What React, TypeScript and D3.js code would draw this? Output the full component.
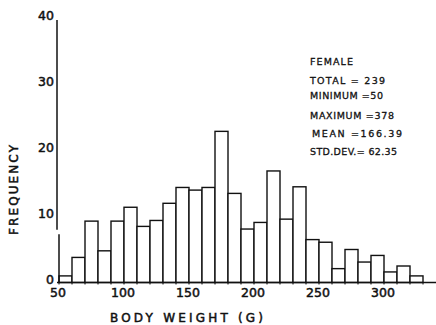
import { useEffect, useRef } from 'react';
import * as d3 from 'd3';

// histogram bins (10 g wide) and their frequencies
const binStarts = [50, 60, 70, 80, 90, 100, 110, 120, 130, 140, 150, 160, 170, 180,
    190, 200, 210, 220, 230, 240, 250, 260, 270, 280, 290, 300, 310, 320];
const frequencies = [1.0, 3.8, 9.3, 4.8, 9.3, 11.4, 8.5, 9.4, 12.0, 14.4, 14.0, 14.4, 22.9, 13.5,
    8.1, 9.1, 16.9, 9.6, 14.5, 6.5, 6.1, 2.1, 5.0, 3.1, 4.1, 1.6, 2.5, 1.0];
const binWidth = 10;

const xTicks = [50, 100, 150, 200, 250, 300];
const yTicks = [0, 10, 20, 30, 40];

const statLines = ['FEMALE', 'TOTAL  = 239', 'MINIMUM =50', 'MAXIMUM =378', 'MEAN =166.39', 'STD.DEV.= 62.35'];

const App = () => {
    const svgRef = useRef<SVGSVGElement>(null);

    useEffect(() => {
        const width = 436;
        const height = 325;
        const font = 'DejaVu Sans, sans-serif';

        const svg = d3.select(svgRef.current)
            .attr('width', width)
            .attr('height', height);
        svg.selectAll('*').remove();

        svg.append('rect').attr('width', width).attr('height', height).attr('fill', '#fff');

        const x = d3.scaleLinear().domain([50, 330]).range([59, 423]);
        const y = d3.scaleLinear().domain([0, 40]).range([282.5, 18.5]);

        // bars
        svg.selectAll('.bar')
            .data(binStarts)
            .enter()
            .append('rect')
            .attr('class', 'bar')
            .attr('x', d => x(d))
            .attr('y', (d, i) => y(frequencies[i]))
            .attr('width', d => x(d + binWidth) - x(d))
            .attr('height', (d, i) => y(0) - y(frequencies[i]))
            .attr('fill', '#fff')
            .attr('stroke', '#111')
            .attr('stroke-width', 1.4);

        // little ticks under the baseline at every bin edge
        svg.selectAll('.edge-tick')
            .data([...binStarts, 330])
            .enter()
            .append('line')
            .attr('x1', d => x(d)).attr('x2', d => x(d))
            .attr('y1', y(0)).attr('y2', y(0) + 2)
            .attr('stroke', '#111').attr('stroke-width', 1);

        // x axis line runs out to the right edge
        svg.append('line')
            .attr('x1', 57).attr('x2', width)
            .attr('y1', y(0)).attr('y2', y(0))
            .attr('stroke', '#111').attr('stroke-width', 1.6);

        // y axis (the scan has a small break in it near the bottom)
        svg.append('line')
            .attr('x1', 57).attr('x2', 57)
            .attr('y1', y(40) + 1.5).attr('y2', y(8))
            .attr('stroke', '#111').attr('stroke-width', 1.5);
        svg.append('line')
            .attr('x1', x(50)).attr('x2', x(50))
            .attr('y1', y(7.3)).attr('y2', y(0))
            .attr('stroke', '#111').attr('stroke-width', 1.5);

        // lettering is a bit heavier than Book weight, so give it a thin outline
        const ink = (sel: any, w: number) => sel
            .style('font-family', font)
            .style('fill', '#111')
            .style('stroke', '#111')
            .style('stroke-width', w);

        // y tick labels
        svg.selectAll('.y-label')
            .data(yTicks)
            .enter()
            .append('text')
            .text(d => d)
            .attr('x', 54)
            .attr('y', d => y(d) - 3.5)
            .attr('text-anchor', 'end')
            .attr('dominant-baseline', 'central')
            .style('font-size', '12.5px')
            .call(ink, 0.5);

        // x tick labels
        svg.selectAll('.x-label')
            .data(xTicks)
            .enter()
            .append('text')
            .text(d => d)
            .attr('x', d => x(d) - 1)
            .attr('y', 292)
            .attr('text-anchor', 'middle')
            .attr('dominant-baseline', 'central')
            .style('font-size', '12.5px')
            .call(ink, 0.5);

        // axis titles
        svg.append('text')
            .text('BODY  WEIGHT  (G)')
            .attr('x', 110)
            .attr('y', 318)
            .attr('textLength', 153)
            .attr('lengthAdjust', 'spacing')
            .attr('dominant-baseline', 'central')
            .style('font-size', '12px')
            .call(ink, 0.5);

        svg.append('text')
            .text('FREQUENCY')
            .attr('transform', 'translate(14, 235) rotate(-90)')
            .attr('textLength', 90)
            .attr('lengthAdjust', 'spacing')
            .attr('dominant-baseline', 'central')
            .style('font-size', '12px')
            .call(ink, 0.5);

        // summary statistics block
        const statY = [61.5, 80, 95, 115, 133.5, 151.5];
        const statLen = [43, 75, 73, 84, 90, 87];
        svg.selectAll('.stat')
            .data(statLines)
            .enter()
            .append('text')
            .text(d => d)
            .attr('x', (d, i) => (i === 4 ? 312 : 310))
            .attr('y', (d, i) => statY[i])
            .attr('textLength', (d, i) => statLen[i])
            .attr('lengthAdjust', 'spacing')
            .attr('dominant-baseline', 'central')
            .style('font-size', '9.5px')
            .call(ink, 0.3);
    }, []);

    return <svg ref={svgRef} style={{ position: 'absolute', left: 0, top: 0 }} />;
};

export default App;
